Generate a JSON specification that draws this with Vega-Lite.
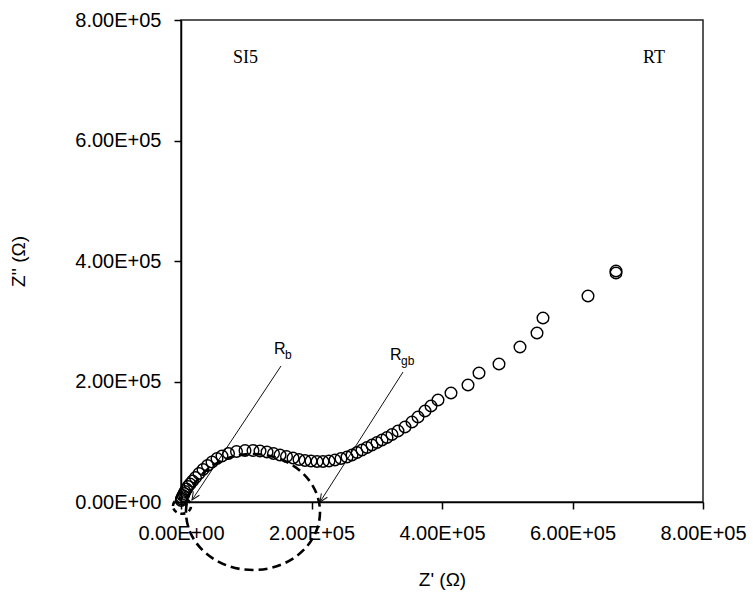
{
  "$schema": "https://vega.github.io/schema/vega-lite/v6.json",
  "width": 522,
  "height": 482,
  "autosize": {"type": "none"},
  "padding": {"left": 181, "top": 20, "right": 50, "bottom": 91},
  "background": "white",
  "config": {
    "view": {"stroke": "#222", "strokeWidth": 1.5},
    "axis": {
      "grid": false,
      "domainColor": "#000",
      "domainWidth": 1.5,
      "tickColor": "#000",
      "tickWidth": 1.5,
      "tickSize": 7,
      "labelFont": "Liberation Sans",
      "labelFontSize": 20,
      "labelColor": "#000",
      "titleFont": "Liberation Sans",
      "titleFontSize": 19,
      "titleFontWeight": "normal",
      "titleColor": "#000"
    }
  },
  "datasets": {
    "points": [
      {"x": 300, "y": 2490}, {"x": 766, "y": 4980}, {"x": 1533, "y": 7470}, {"x": 3065, "y": 10790},
      {"x": 4598, "y": 14110}, {"x": 6130, "y": 17430}, {"x": 8429, "y": 21577}, {"x": 10728, "y": 25726},
      {"x": 13793, "y": 29876}, {"x": 17625, "y": 34855}, {"x": 22222, "y": 40664}, {"x": 27586, "y": 47303},
      {"x": 33716, "y": 53942}, {"x": 40613, "y": 60581}, {"x": 47510, "y": 66390}, {"x": 55173, "y": 72199},
      {"x": 62835, "y": 76349}, {"x": 72797, "y": 80498}, {"x": 85058, "y": 83817}, {"x": 98084, "y": 85477},
      {"x": 110345, "y": 85477}, {"x": 121073, "y": 84647}, {"x": 131801, "y": 82988}, {"x": 141763, "y": 80498},
      {"x": 151724, "y": 78008}, {"x": 161686, "y": 75519}, {"x": 171648, "y": 73029}, {"x": 180843, "y": 70539},
      {"x": 190039, "y": 68880}, {"x": 199234, "y": 68050}, {"x": 208430, "y": 67220}, {"x": 217625, "y": 67220},
      {"x": 226820, "y": 68050}, {"x": 236016, "y": 69710}, {"x": 245211, "y": 72199}, {"x": 254407, "y": 74689},
      {"x": 262070, "y": 78008}, {"x": 269733, "y": 82158}, {"x": 277395, "y": 86307}, {"x": 285058, "y": 90456},
      {"x": 292721, "y": 94606}, {"x": 300384, "y": 98755}, {"x": 308047, "y": 102905}, {"x": 315709, "y": 107054},
      {"x": 323372, "y": 112033}, {"x": 332568, "y": 117842}, {"x": 343296, "y": 124481}, {"x": 354024, "y": 132780},
      {"x": 363219, "y": 141079}, {"x": 373947, "y": 151037}, {"x": 383143, "y": 159336}, {"x": 393871, "y": 169295},
      {"x": 413794, "y": 180913}, {"x": 439848, "y": 194191}, {"x": 456706, "y": 214108}, {"x": 487357, "y": 229046},
      {"x": 519541, "y": 257261}, {"x": 545594, "y": 280498}, {"x": 554790, "y": 305394}, {"x": 623756, "y": 341909},
      {"x": 666668, "y": 380083}, {"x": 666668, "y": 383402}
    ],
    "arrows": [
      {"x": 153260, "y": 225720, "x2": 16860, "y2": 3320},
      {"x": 340230, "y": 215770, "x2": 213030, "y2": 0}
    ],
    "rlabels": [
      {"x": 142500, "y": 253900, "main": "R", "sub": "b"},
      {"x": 320300, "y": 244000, "main": "R", "sub": "gb"}
    ],
    "notes": [
      {"x": 79700, "y": 736900, "t": "SI5"},
      {"x": 708050, "y": 736900, "t": "RT"}
    ],
    "bigring": [{"x": 110350, "y": -16600}],
    "smallring": [{"x": 1533, "y": -6640}]
  },
  "layer": [
    {
      "data": {"name": "arrows"},
      "mark": {"type": "rule", "color": "#111", "strokeWidth": 1},
      "encoding": {
        "x": {"field": "x", "type": "quantitative", "scale": {"domain": [0, 800000], "nice": false},
          "axis": {"values": [0, 200000, 400000, 600000, 800000], "labelExpr": "replace(upper(format(datum.value,'.2e')),'E+','E+0')", "title": "Z' (Ω)", "labelPadding": 14, "titleX": 261, "titleY": 77, "titleBaseline": "middle", "labelFlush": false, "labelOverlap": false}},
        "y": {"field": "y", "type": "quantitative", "scale": {"domain": [0, 800000], "nice": false},
          "axis": {"values": [0, 200000, 400000, 600000, 800000], "labelExpr": "replace(upper(format(datum.value,'.2e')),'E+','E+0')", "title": "Z'' (Ω)", "labelPadding": 13, "titleX": -163, "titleY": 241, "titleBaseline": "middle", "titleAngle": -90, "labelFlush": false, "labelOverlap": false}},
        "x2": {"field": "x2"},
        "y2": {"field": "y2"}
      }
    },
    {
      "data": {"name": "arrows"},
      "mark": {"type": "point", "shape": "M -0.45 1 L 0 0 L 0.45 1", "filled": false, "stroke": "#111", "strokeWidth": 1, "size": 256, "angle": 213, "opacity": 1},
      "encoding": {
        "x": {"field": "x2", "type": "quantitative", "scale": {"domain": [0, 800000], "nice": false}},
        "y": {"field": "y2", "type": "quantitative", "scale": {"domain": [0, 800000], "nice": false}}
      }
    },
    {
      "data": {"name": "points"},
      "mark": {"type": "point", "shape": "circle", "filled": false, "stroke": "#000", "strokeWidth": 1.4, "size": 135, "opacity": 1},
      "encoding": {
        "x": {"field": "x", "type": "quantitative", "scale": {"domain": [0, 800000], "nice": false}},
        "y": {"field": "y", "type": "quantitative", "scale": {"domain": [0, 800000], "nice": false}}
      }
    },
    {
      "data": {"name": "bigring"},
      "mark": {"type": "point", "shape": "M -1 0 C -1 -0.478 -0.552 -0.866 0 -0.866 C 0.552 -0.866 1 -0.478 1 0 C 1 0.478 0.552 0.866 0 0.866 C -0.552 0.866 -1 0.478 -1 0 Z", "filled": false, "stroke": "#000", "strokeWidth": 2.6, "strokeDash": [9, 5], "size": 17956, "opacity": 1},
      "encoding": {
        "x": {"field": "x", "type": "quantitative", "scale": {"domain": [0, 800000], "nice": false}},
        "y": {"field": "y", "type": "quantitative", "scale": {"domain": [0, 800000], "nice": false}}
      }
    },
    {
      "data": {"name": "smallring"},
      "mark": {"type": "point", "shape": "M -1 0 C -1 -0.478 -0.552 -0.866 0 -0.866 C 0.552 -0.866 1 -0.478 1 0 C 1 0.478 0.552 0.866 0 0.866 C -0.552 0.866 -1 0.478 -1 0 Z", "filled": false, "stroke": "#000", "strokeWidth": 2.6, "strokeDash": [5, 4], "size": 324, "opacity": 1},
      "encoding": {
        "x": {"field": "x", "type": "quantitative", "scale": {"domain": [0, 800000], "nice": false}},
        "y": {"field": "y", "type": "quantitative", "scale": {"domain": [0, 800000], "nice": false}}
      }
    },
    {
      "data": {"name": "notes"},
      "mark": {"type": "text", "font": "Liberation Serif", "fontSize": 18, "align": "left", "baseline": "middle", "color": "#000"},
      "encoding": {
        "x": {"field": "x", "type": "quantitative", "scale": {"domain": [0, 800000], "nice": false}},
        "y": {"field": "y", "type": "quantitative", "scale": {"domain": [0, 800000], "nice": false}},
        "text": {"field": "t"}
      }
    },
    {
      "data": {"name": "rlabels"},
      "mark": {"type": "text", "font": "Liberation Sans", "fontSize": 16, "align": "left", "baseline": "middle", "color": "#000"},
      "encoding": {
        "x": {"field": "x", "type": "quantitative", "scale": {"domain": [0, 800000], "nice": false}},
        "y": {"field": "y", "type": "quantitative", "scale": {"domain": [0, 800000], "nice": false}},
        "text": {"field": "main"}
      }
    },
    {
      "data": {"name": "rlabels"},
      "mark": {"type": "text", "font": "Liberation Sans", "fontSize": 12, "align": "left", "baseline": "middle", "color": "#000", "dx": 11, "dy": 6},
      "encoding": {
        "x": {"field": "x", "type": "quantitative", "scale": {"domain": [0, 800000], "nice": false}},
        "y": {"field": "y", "type": "quantitative", "scale": {"domain": [0, 800000], "nice": false}},
        "text": {"field": "sub"}
      }
    }
  ]
}
